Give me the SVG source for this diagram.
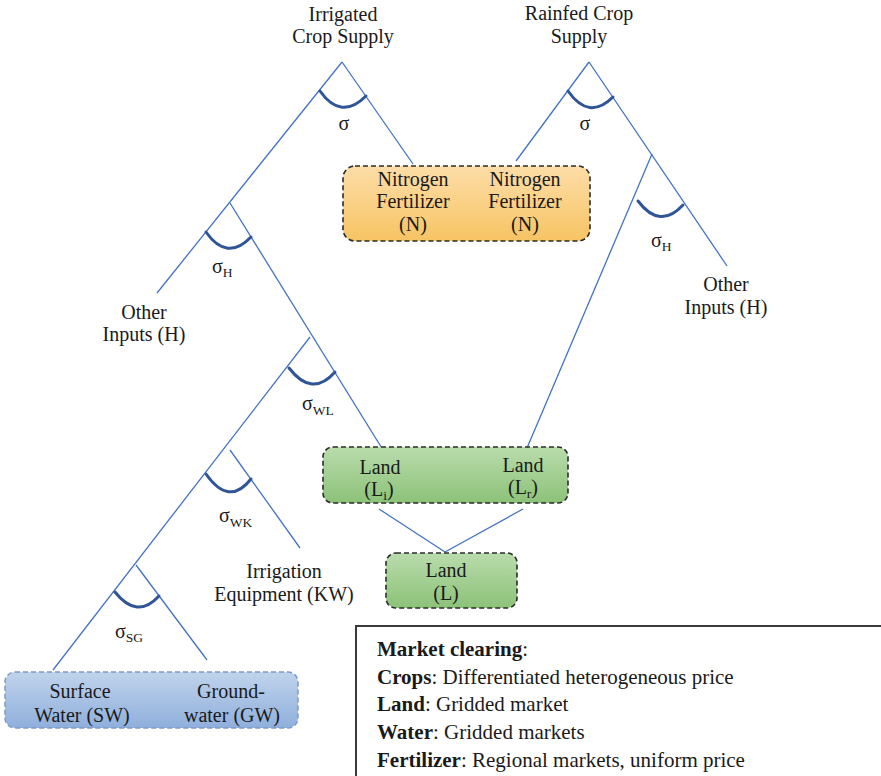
<svg xmlns="http://www.w3.org/2000/svg" width="881" height="776" viewBox="0 0 881 776">
  <defs>
    <linearGradient id="gOrange" x1="0" y1="0" x2="0" y2="1">
      <stop offset="0" stop-color="#fddda8"/>
      <stop offset="1" stop-color="#f7c463"/>
    </linearGradient>
    <linearGradient id="gGreen" x1="0" y1="0" x2="0" y2="1">
      <stop offset="0" stop-color="#b9dcab"/>
      <stop offset="1" stop-color="#8cc279"/>
    </linearGradient>
    <linearGradient id="gBlue" x1="0" y1="0" x2="0" y2="1">
      <stop offset="0" stop-color="#c0d3ec"/>
      <stop offset="1" stop-color="#8fafdb"/>
    </linearGradient>
    <style>
      text { font-family: "Liberation Serif", "Times New Roman", serif; font-size: 20px; fill: #1a1a1a; }
      .c { text-anchor: middle; }
      .sub { font-size: 13.5px; }
      .b { font-weight: bold; }
      .legend text { font-size: 21px; }
      .edge { stroke: #4472c4; stroke-width: 1.3; fill: none; }
      .arc { stroke: #2f5597; stroke-width: 3; fill: none; stroke-linecap: round; }
      .box { stroke: #2b2b2b; stroke-width: 1.6; stroke-dasharray: 5 3; }
      .boxw { stroke: #7b9bc8; stroke-width: 1.5; stroke-dasharray: 5 3; }
    </style>
  </defs>
  <rect width="881" height="776" fill="#ffffff"/>

  <!-- connectors -->
  <g id="connectors">
    <!-- irrigated nest -->
    <line class="edge" x1="342" y1="62" x2="157" y2="293"/>
    <line class="edge" x1="342" y1="62" x2="413" y2="164"/>
    <line class="edge" x1="230" y1="203" x2="383" y2="450"/>
    <line class="edge" x1="310" y1="337" x2="53" y2="670"/>
    <line class="edge" x1="230" y1="450" x2="300" y2="548"/>
    <line class="edge" x1="136" y1="565" x2="207" y2="660"/>
    <!-- rainfed nest -->
    <line class="edge" x1="589" y1="62" x2="516" y2="161"/>
    <line class="edge" x1="589" y1="62" x2="727" y2="266"/>
    <line class="edge" x1="652" y1="154" x2="527" y2="448"/>
    <!-- land aggregation -->
    <line class="edge" x1="379" y1="509" x2="445" y2="552"/>
    <line class="edge" x1="523" y1="509" x2="445" y2="552"/>
    <!-- substitution arcs -->
    <path class="arc" d="M320,91 Q341,121 366,96"/>
    <path class="arc" d="M568,91 Q589,121 613,97"/>
    <path class="arc" d="M206,232 Q227,262 251,237"/>
    <path class="arc" d="M638,201 Q660,230 683,205"/>
    <path class="arc" d="M289,368 Q312,398 335,372"/>
    <path class="arc" d="M206,474 Q229,507 251,479"/>
    <path class="arc" d="M115,592 Q137,620 159,596"/>
  </g>

  <!-- elasticity labels -->
  <g id="elasticities">
    <text x="344" y="130" class="c">σ</text>
    <text x="585" y="130" class="c">σ</text>
    <text x="212" y="273">σ<tspan class="sub" dy="4">H</tspan></text>
    <text x="651" y="247">σ<tspan class="sub" dy="4">H</tspan></text>
    <text x="302" y="410">σ<tspan class="sub" dy="5">WL</tspan></text>
    <text x="219" y="522">σ<tspan class="sub" dy="5">WK</tspan></text>
    <text x="115" y="638">σ<tspan class="sub" dy="4">SG</tspan></text>
  </g>

  <g id="irrigated-supply">
    <text class="c" x="343" y="20.8">Irrigated<tspan x="343" dy="22.4">Crop Supply</tspan></text>
  </g>

  <g id="rainfed-supply">
    <text class="c" x="579" y="20.3">Rainfed Crop<tspan x="579" dy="22.4">Supply</tspan></text>
  </g>

  <g id="nitrogen">
    <rect class="box" x="343" y="166" width="247" height="75" rx="12" fill="url(#gOrange)"/>
    <text class="c" x="413" y="185.7">Nitrogen<tspan x="413" dy="22.4">Fertilizer</tspan><tspan x="413" dy="22.4">(N)</tspan></text>
    <text class="c" x="525" y="185.7">Nitrogen<tspan x="525" dy="22.4">Fertilizer</tspan><tspan x="525" dy="22.4">(N)</tspan></text>
  </g>

  <g id="other-inputs-irrigated">
    <text class="c" x="144" y="318.8">Other<tspan x="144" dy="22.4">Inputs (H)</tspan></text>
  </g>

  <g id="other-inputs-rainfed">
    <text class="c" x="726" y="291.3">Other<tspan x="726" dy="22.4">Inputs (H)</tspan></text>
  </g>

  <g id="land-split">
    <rect class="box" x="323" y="447" width="245" height="56" rx="10" fill="url(#gGreen)"/>
    <text class="c" x="380" y="473.8">Land<tspan x="379" dy="22.4">(L</tspan><tspan class="sub" dy="4">i</tspan><tspan dy="-4">)</tspan></text>
    <text class="c" x="523" y="471.8">Land<tspan x="523" dy="22.4">(L</tspan><tspan class="sub" dy="4">r</tspan><tspan dy="-4">)</tspan></text>
  </g>

  <g id="land">
    <rect class="box" x="386" y="553" width="131" height="55" rx="10" fill="url(#gGreen)"/>
    <text class="c" x="446" y="577.3">Land<tspan x="446" dy="22.4">(L)</tspan></text>
  </g>

  <g id="irrigation-equipment">
    <text class="c" x="284" y="578.3">Irrigation<tspan x="284" dy="22.4">Equipment (KW)</tspan></text>
  </g>

  <g id="water">
    <rect class="boxw" x="5" y="672" width="293" height="56" rx="10" fill="url(#gBlue)"/>
    <text class="c" x="80" y="698">Surface<tspan x="82" dy="24">Water (SW)</tspan></text>
    <text class="c" x="231" y="698">Ground-<tspan x="232" dy="24">water (GW)</tspan></text>
  </g>

  <g id="market-clearing" class="legend">
    <rect x="356" y="626" width="530" height="155" fill="#ffffff" stroke="#3a3a3a" stroke-width="2"/>
    <text x="377" y="656"><tspan class="b">Market clearing</tspan>:</text>
    <text x="377" y="684"><tspan class="b">Crops</tspan>: Differentiated heterogeneous price</text>
    <text x="377" y="711"><tspan class="b">Land</tspan>: Gridded market</text>
    <text x="377" y="739"><tspan class="b">Water</tspan>: Gridded markets</text>
    <text x="377" y="767"><tspan class="b">Fertilizer</tspan>: Regional markets, uniform price</text>
  </g>
</svg>
